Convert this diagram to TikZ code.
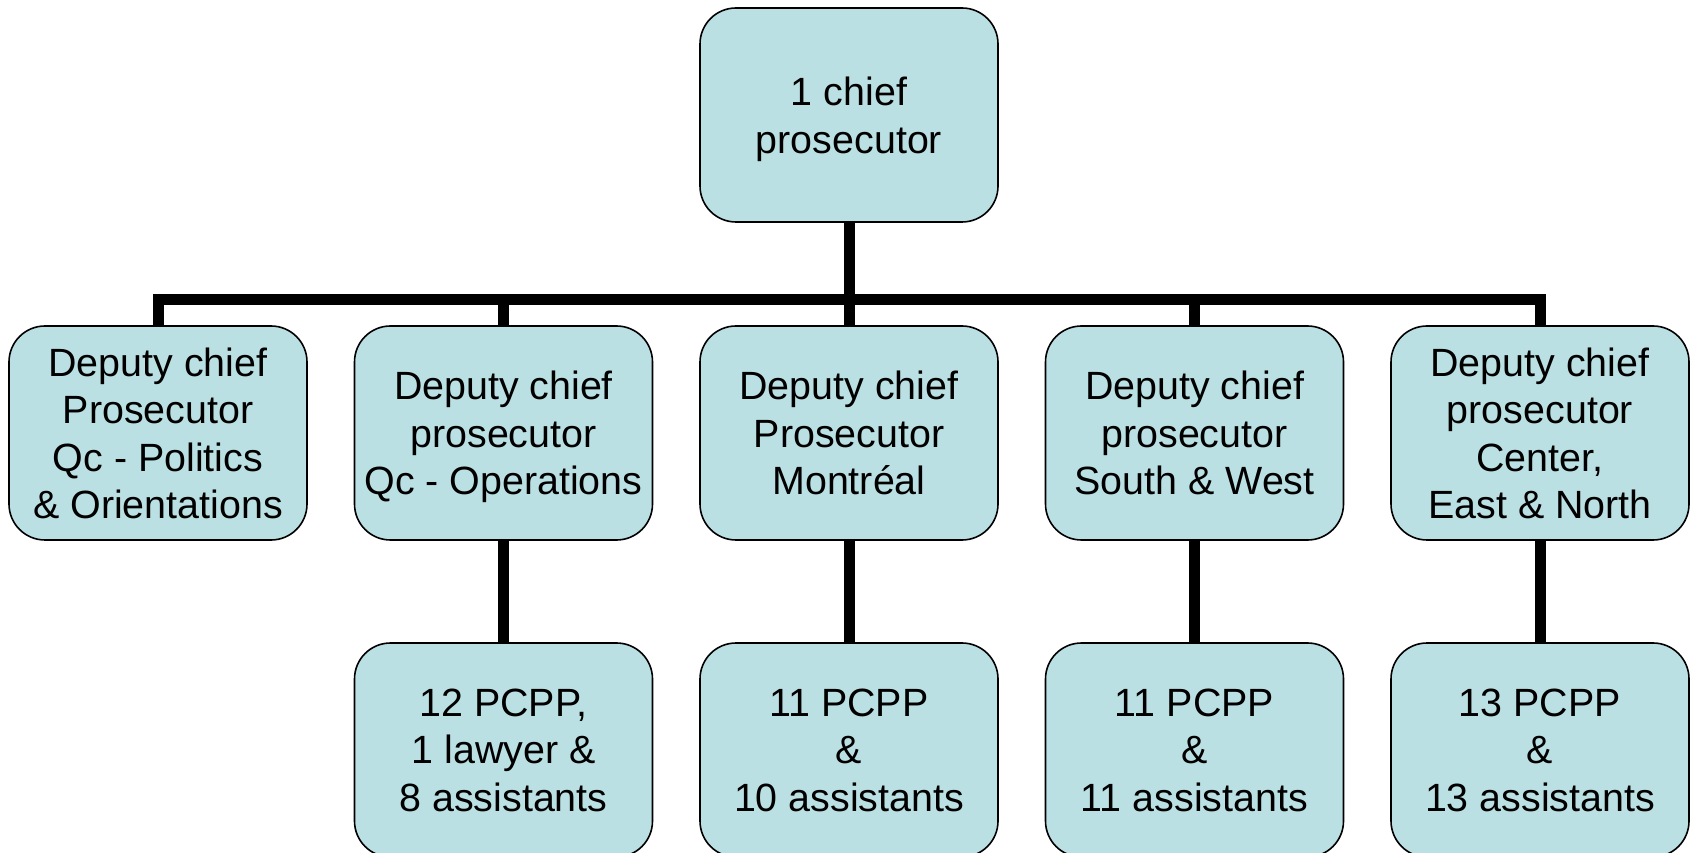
\documentclass[tikz,border=0pt]{standalone}
\usepackage{fontspec}
\setmainfont{Liberation Sans}
\definecolor{boxfill}{RGB}{187,224,227}
\tikzset{
  orgbox/.style={draw=black, line width=1.6pt, fill=boxfill, rounded corners=36pt,
    minimum width=298pt, minimum height=214pt, inner sep=0pt, align=center,
    font=\fontsize{39.4}{47.5}\selectfont, text depth=0pt},
  link/.style={line width=11pt, draw=black, line join=miter}
}
\begin{document}
\begin{tikzpicture}[x=1pt,y=1pt]
\useasboundingbox (0,0) rectangle (1694,852);
\clip (0,0) rectangle (1694,852);
\node[orgbox] (top) at (849,737) {1 chief\\prosecutor};
\node[orgbox] (d1) at (158,419) {Deputy chief\\Prosecutor\\Qc - Politics\\\& Orientations};
\node[orgbox] (d2) at (503.5,419) {Deputy chief\\prosecutor\\Qc - Operations};
\node[orgbox] (d3) at (849,419) {Deputy chief\\Prosecutor\\Montréal};
\node[orgbox] (d4) at (1194.5,419) {Deputy chief\\prosecutor\\South \& West};
\node[orgbox] (d5) at (1540,419) {Deputy chief\\prosecutor\\Center,\\East \& North};
\node[orgbox] (b2) at (503.5,102) {12 PCPP,\\1 lawyer \&\\8 assistants};
\node[orgbox] (b3) at (849,102) {11 PCPP\\\&\\10 assistants};
\node[orgbox] (b4) at (1194.5,102) {11 PCPP\\\&\\11 assistants};
\node[orgbox] (b5) at (1540,102) {13 PCPP\\\&\\13 assistants};
\coordinate (bar) at (849,552);
\draw[link] (top.south) -- (top.south |- bar);
\draw[link] (d1.north) -- (d1.north |- bar) -- (d5.north |- bar) -- (d5.north);
\draw[link] (d2.north) -- (d2.north |- bar);
\draw[link] (d3.north) -- (d3.north |- bar);
\draw[link] (d4.north) -- (d4.north |- bar);
\draw[link] (d2.south) -- (b2.north);
\draw[link] (d3.south) -- (b3.north);
\draw[link] (d4.south) -- (b4.north);
\draw[link] (d5.south) -- (b5.north);
\end{tikzpicture}
\end{document}
